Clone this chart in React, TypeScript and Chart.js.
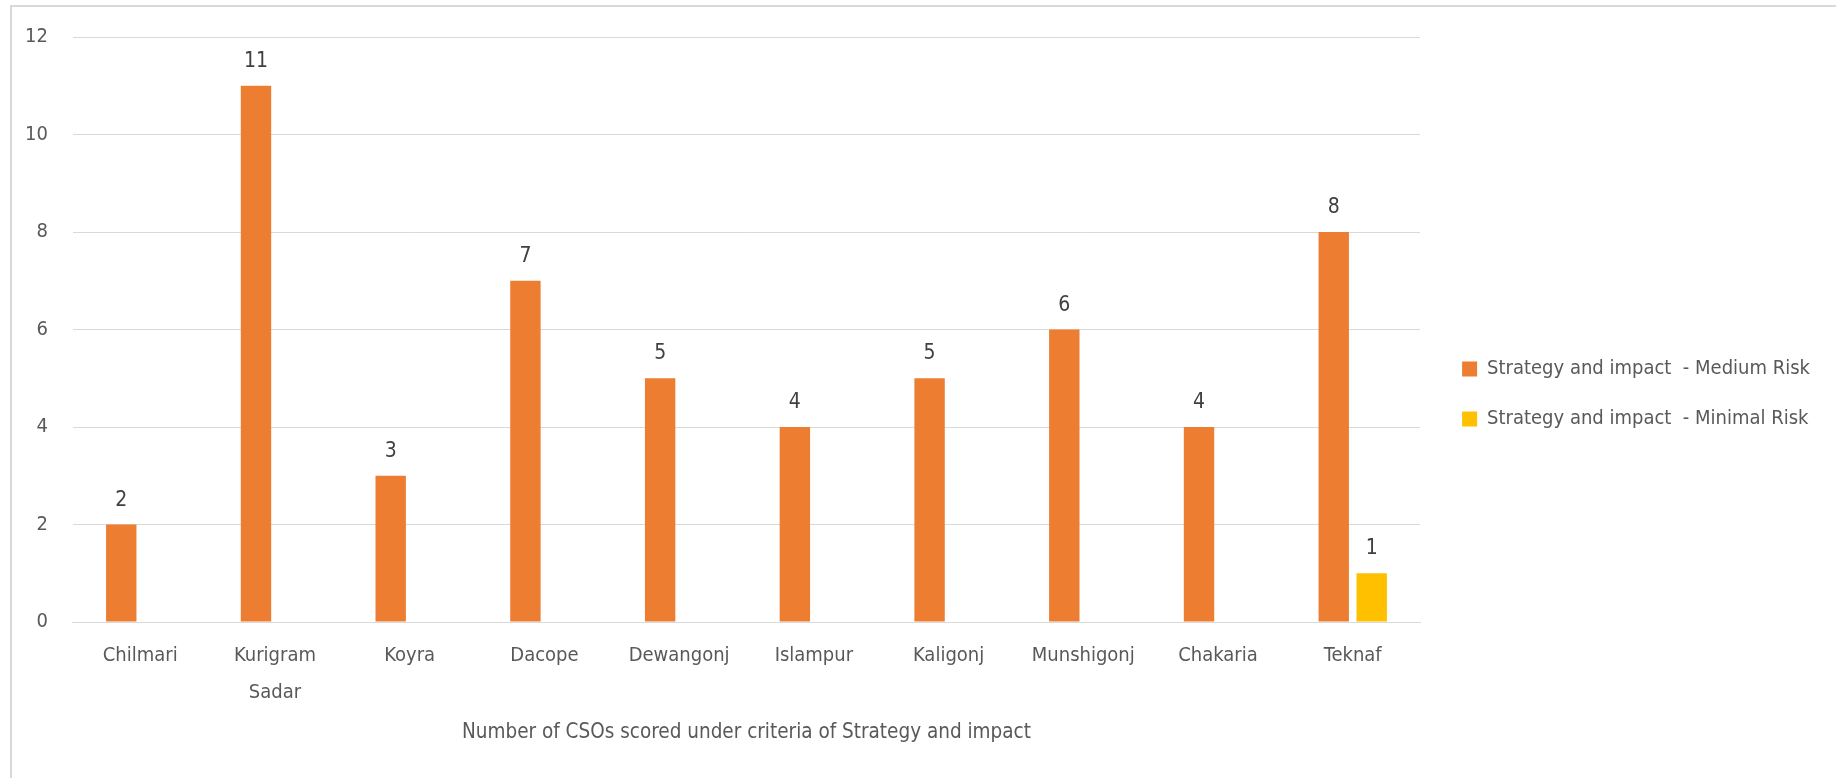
import React, { useEffect, useRef } from "react";
import { Chart, registerables } from "chart.js";

Chart.register(...registerables);

const categories: (string | string[])[] = [
  "Chilmari",
  ["Kurigram", "Sadar"],
  "Koyra",
  "Dacope",
  "Dewangonj",
  "Islampur",
  "Kaligonj",
  "Munshigonj",
  "Chakaria",
  "Teknaf",
];
const mediumRisk: (number | null)[] = [2, 11, 3, 7, 5, 4, 5, 6, 4, 8];
const minimalRisk: (number | null)[] = [null, null, null, null, null, null, null, null, null, 1];
const seriesNames = [
  "Strategy and impact  - Medium Risk",
  "Strategy and impact  - Minimal Risk",
];
const yMin = 0;
const yMax = 12;
const yStep = 2;
const axisTitle = "Number of CSOs scored under criteria of Strategy and impact";

const FONT = '"Liberation Sans Narrow", "DejaVu Sans Condensed", "Arial Narrow", sans-serif';
const TEXT = "#595959";
const GRID = "#d9d9d9";

const framePlugin = {
  id: "frame",
  beforeDraw(chart: any) {
    const ctx = chart.ctx;
    ctx.save();
    ctx.fillStyle = "#ffffff";
    ctx.fillRect(0, 0, chart.width, chart.height);
    ctx.strokeStyle = GRID;
    ctx.lineWidth = 2;
    ctx.beginPath();
    ctx.moveTo(11, chart.height + 2);
    ctx.lineTo(11, 6);
    ctx.lineTo(chart.width, 6);
    ctx.stroke();
    ctx.restore();
  },
};

const valueLabelPlugin = {
  id: "valueLabels",
  afterDatasetsDraw(chart: any) {
    const ctx = chart.ctx;
    ctx.save();
    ctx.font = `21px ${FONT}`;
    ctx.fillStyle = "#404040";
    ctx.textAlign = "center";
    ctx.textBaseline = "alphabetic";
    chart.data.datasets.forEach((ds: any, i: number) => {
      const meta = chart.getDatasetMeta(i);
      meta.data.forEach((bar: any, j: number) => {
        const v = ds.data[j];
        if (v === null || v === undefined) return;
        ctx.fillText(String(v), bar.x, bar.y - 19);
      });
    });
    ctx.restore();
  },
};

const bottomTitlePlugin = {
  id: "bottomTitle",
  afterDraw(chart: any) {
    const ctx = chart.ctx;
    const a = chart.chartArea;
    ctx.save();
    ctx.font = `20.5px ${FONT}`;
    ctx.fillStyle = TEXT;
    ctx.textAlign = "center";
    ctx.textBaseline = "middle";
    ctx.fillText(axisTitle, (a.left + a.right) / 2, chart.height - 45);
    ctx.restore();
  },
};

export default function App() {
  const ref = useRef<HTMLCanvasElement | null>(null);

  useEffect(() => {
    if (!ref.current) return;
    const chart = new Chart(ref.current, {
      type: "bar",
      data: {
        labels: categories as any,
        datasets: [
          {
            label: seriesNames[0],
            data: mediumRisk,
            backgroundColor: "#ED7D31",
            categoryPercentage: 0.564,
            barPercentage: 0.8,
            yAxisID: "y",
          },
          {
            label: seriesNames[1],
            data: minimalRisk,
            backgroundColor: "#FFC000",
            categoryPercentage: 0.564,
            barPercentage: 0.8,
            yAxisID: "y",
          },
        ],
      },
      options: {
        animation: false,
        responsive: false,
        maintainAspectRatio: false,
        devicePixelRatio: 1,
        layout: { padding: { left: 0, top: 29, bottom: 52, right: 16 } },
        plugins: {
          tooltip: { enabled: false },
          legend: {
            display: true,
            position: "right",
            align: "center",
            maxWidth: 600,
            title: {
              display: true,
              text: "",
              font: { size: 10, lineHeight: 1 },
              padding: { top: 0, bottom: 23 },
            },
            labels: {
              boxWidth: 15,
              boxHeight: 15,
              padding: 30,
              color: TEXT,
              font: { family: FONT, size: 20 },
            },
          },
        },
        scales: {
          x: {
            grid: { display: false, drawTicks: false },
            border: { display: true, color: GRID, width: 1 },
            ticks: {
              color: TEXT,
              font: { family: FONT, size: 20, lineHeight: 1.85 },
              padding: 15,
              maxRotation: 0,
              autoSkip: false,
            },
          },
          y: {
            min: yMin,
            max: yMax,
            grid: { color: GRID, lineWidth: 1, drawTicks: false },
            border: { display: false },
            ticks: {
              stepSize: yStep,
              color: TEXT,
              font: { family: FONT, size: 20 },
              padding: 25,
            },
          },
          gap: {
            type: "linear",
            position: "right",
            display: true,
            grid: { display: false, drawTicks: false },
            border: { display: false },
            ticks: { display: false },
            afterFit(scale: any) {
              scale.width = 12;
            },
          },
        },
      },
      plugins: [framePlugin, valueLabelPlugin, bottomTitlePlugin],
    });
    return () => chart.destroy();
  }, []);

  return (
    <div style={{ position: "absolute", left: 0, top: 0, width: 1836, height: 778 }}>
      <canvas ref={ref} width={1836} height={778} style={{ display: "block" }} />
    </div>
  );
}
